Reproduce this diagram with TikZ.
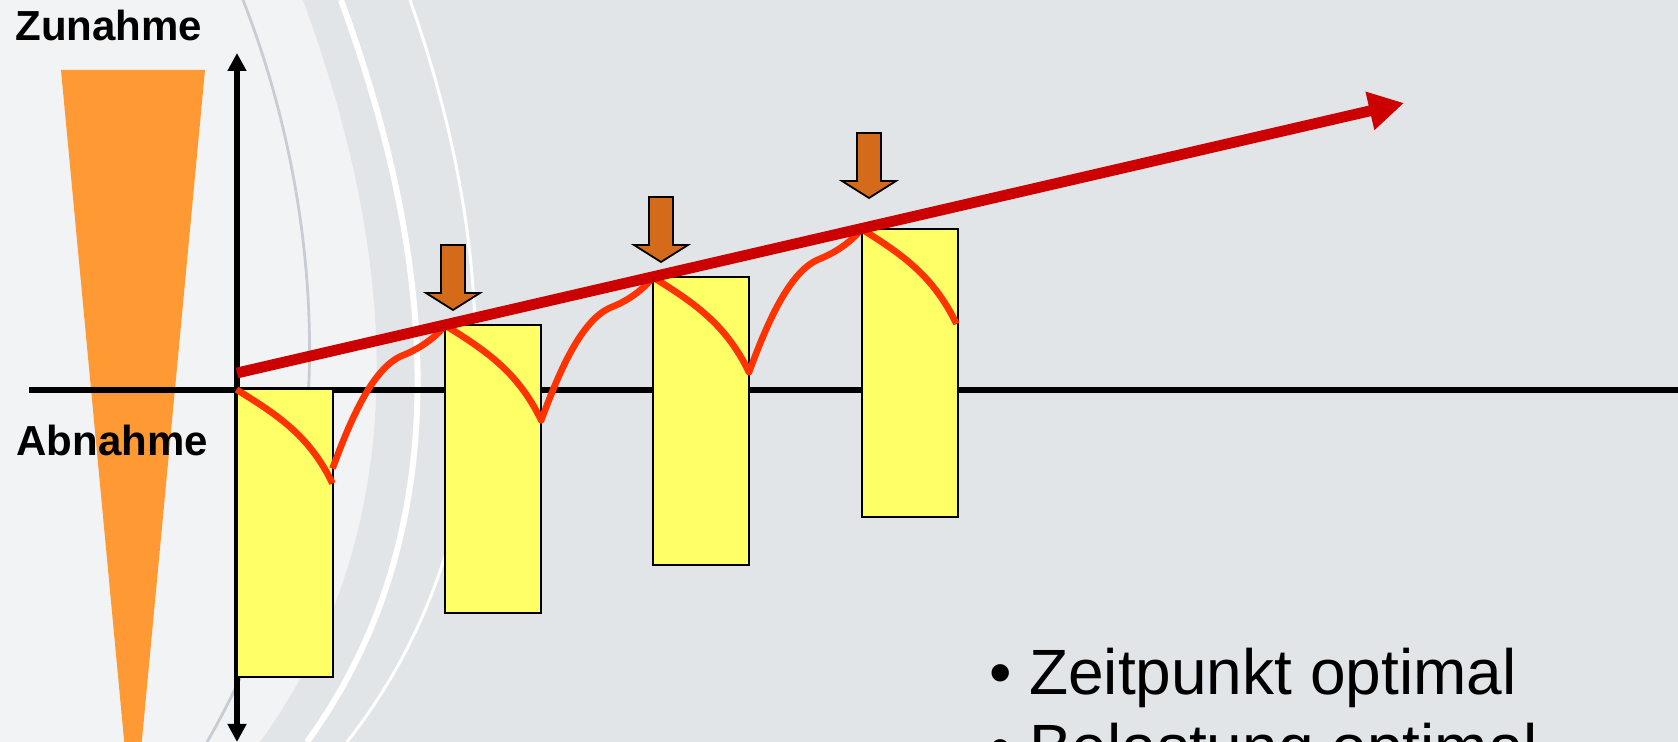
\documentclass[tikz,border=0pt]{standalone}
\usepackage{fontspec}
\setmainfont{Liberation Sans}
\usepackage{tikz}
\usetikzlibrary{arrows.meta,positioning,calc}
\definecolor{LoadBgLight}{HTML}{F2F3F5}
\definecolor{LoadBgDark}{HTML}{E1E5E8}
\definecolor{LoadArc}{HTML}{C8CDD3}
\definecolor{LoadWedge}{HTML}{FF9933}
\definecolor{LoadBar}{HTML}{FFFF66}
\definecolor{LoadCurve}{HTML}{FF3300}
\definecolor{LoadTrend}{HTML}{CC0000}
\definecolor{LoadMark}{HTML}{D36B1B}

\begin{document}
\begin{tikzpicture}[x=0.5pt,y=-0.5pt,>={Triangle[length=9pt,width=9pt]}]
  \tikzset{bar/.style={draw=black, line width=1pt, fill=LoadBar, minimum width=48pt, minimum height=144pt, anchor=north west, inner sep=0pt, outer sep=0pt},
    dropmark/.style={draw=black, line width=0.9pt, fill=LoadMark, line join=miter},
    axislabel/.style={font=\bfseries\fontsize{21}{25}\selectfont, anchor=base west, inner sep=0pt},
    bullettext/.style={font=\fontsize{32}{38}\selectfont, anchor=base west, inner sep=0pt},
    axisline/.style={line width=3pt, draw=black},
    loadcurve/.style={line width=3.3pt, draw=LoadCurve, line join=round},
    trend/.style={line width=5.4pt, draw=LoadTrend, -{Triangle[length=17.5pt,width=18.5pt]}}}
  \useasboundingbox (0,0) rectangle (1678,742);
  \clip (0,0) rectangle (1678,742);
  \fill[LoadBgLight] (0,0) rectangle (1678,742);
  \fill[LoadBgDark] (303,0) .. controls (365,170) and (450,480) .. (260,742) -- (1678,742) -- (1678,0) -- cycle;
  \draw[LoadArc, line width=1.4pt] (243,0) .. controls (310,170) and (365,470) .. (207,742);
  \draw[white, line width=3pt] (341,0) .. controls (405,175) and (490,490) .. (307,742);
  \draw[white, line width=1.5pt] (410,0) .. controls (470,170) and (545,490) .. (347,742);
  \fill[LoadWedge] (61,70) -- (205,70) -- (133,835) -- cycle;
  \node[axislabel] (inc) at (15,40.7) {Zunahme};
  \node[axislabel] (dec) at (16,456) {Abnahme};
  \coordinate (xstart) at (29,390);
  \coordinate (xend) at (1690,390);
  \coordinate (ytop) at (237,53);
  \coordinate (ybot) at (237,742);
  \draw[axisline] (xstart) -- (xend);
  \draw[axisline,<->] (ybot) -- (ytop);
  \foreach \n/\x/\y in {1/236.5/389.5,2/445.2/325.3,3/653/277.2,4/861.5/229}{\node[bar] (b\n) at (\x,\y) {};}
  \draw[loadcurve] (b1.north west) .. controls +(38,24) and +(-24,-50) .. ++(96,94) ++(0,-15)
    .. controls +(15,-40) and +(-32,13) .. ++(70,-113) .. controls +(20,-8) and +(-9,11) .. (b2.north west)
    .. controls +(38,24) and +(-24,-50) .. ++(96,95)
    .. controls +(15,-40) and +(-32,13) .. ++(70,-113) .. controls +(20,-8) and +(-9,11) .. (b3.north west)
    .. controls +(38,24) and +(-24,-50) .. ++(96,95)
    .. controls +(15,-40) and +(-32,13) .. ++(70,-113) .. controls +(20,-8) and +(-9,11) .. (b4.north west)
    .. controls +(38,24) and +(-24,-50) .. ++(95,95);
  \coordinate (tstart) at (237,373);
  \coordinate (ttip) at (1404,103);
  \draw[trend] (tstart) -- (ttip);
  \foreach \n/\x/\y in {1/453/310,2/661/262,3/869/198}{\coordinate (m\n) at (\x,\y);
    \draw[dropmark] (m\n) -- ++(-27,-17) -- ++(15,0) -- ++(0,-48) -- ++(24,0) -- ++(0,48) -- ++(15,0) -- cycle;}
  \node[bullettext] (p1) at (988.6,694.3) {• Zeitpunkt optimal};
  \node[bullettext] (p2) at (988.6,770) {• Belastung optimal};
\end{tikzpicture}
\end{document}
